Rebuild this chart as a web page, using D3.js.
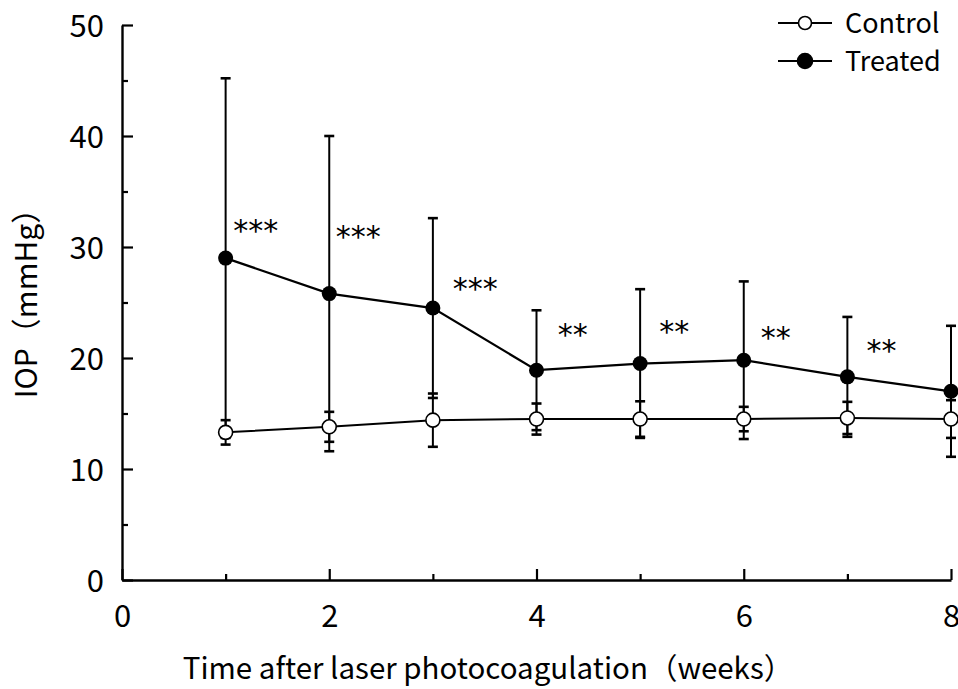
<!DOCTYPE html>
<html>
<head>
<meta charset="utf-8">
<script src="https://cdn.jsdelivr.net/npm/d3@7"></script>
<style>
  body { margin: 0; background: #fff; }
  svg text { font-family: "Noto Sans CJK JP", "Liberation Sans", sans-serif; fill: #000; }
</style>
</head>
<body>
<div id="chart"></div>
<script>
const W = 958, H = 689;
const margin = {top: 25, right: 7, bottom: 109, left: 122};
const width = W - margin.left - margin.right;
const height = H - margin.top - margin.bottom;

// data (weeks after laser photocoagulation)
const weeks = [1, 2, 3, 4, 5, 6, 7, 8];
const controlMean = [13.3, 13.8, 14.4, 14.5, 14.5, 14.5, 14.6, 14.5];
const controlSD   = [1.1, 1.35, 2.4, 1.4, 1.6, 1.1, 1.45, 1.7];
const treatedMean = [29.0, 25.8, 24.5, 18.9, 19.5, 19.8, 18.3, 17.0];
const treatedSD   = [16.2, 14.2, 8.1, 5.4, 6.7, 7.1, 5.4, 5.9];
// significance marks, placed in data units
const sigLabels = ["***", "***", "***", "**", "**", "**", "**"];
const sigX = [1.29, 2.28, 3.41, 4.35, 5.33, 6.31, 7.33];
const sigY = [32.0, 31.5, 26.8, 22.7, 22.9, 22.4, 21.2];

const xTicks = [0, 2, 4, 6, 8];
const yTicks = [0, 10, 20, 30, 40, 50];

const svg = d3.select("#chart").append("svg")
    .attr("width", W)
    .attr("height", H);

const g = svg.append("g")
    .attr("transform", `translate(${margin.left},${margin.top})`);

const x = d3.scaleLinear().domain([0, 8]).range([0, width]);
const y = d3.scaleLinear().domain([0, 50]).range([height, 0]);

// axes - ticks point inward
const yMinor = g.append("g")
    .call(d3.axisLeft(y).tickValues([5, 15, 25, 35, 45]).tickSize(-6).tickFormat(""));
const yAxis = g.append("g")
    .call(d3.axisLeft(y).tickValues(yTicks).tickSize(-11).tickPadding(18).tickSizeOuter(0));
const xMinor = g.append("g")
    .attr("transform", `translate(0,${height})`)
    .call(d3.axisBottom(x).tickValues([1, 3, 5, 7]).tickSize(-6).tickFormat(""));
const xAxis = g.append("g")
    .attr("transform", `translate(0,${height})`)
    .call(d3.axisBottom(x).tickValues(xTicks).tickSize(-11).tickPadding(25).tickSizeOuter(0));

[yMinor, yAxis, xMinor, xAxis].forEach(a => {
  a.selectAll("path, line").attr("stroke", "#000").attr("stroke-width", 2.2);
  a.select(".domain").attr("stroke-width", 2.4);
  a.selectAll("text").style("font-size", "31px").attr("fill", "#000");
});
xMinor.select(".domain").remove();
yMinor.select(".domain").remove();
yAxis.selectAll("text").attr("dy", "0.36em");
xAxis.selectAll("text").attr("dy", "0.72em");

// error bars
function errorBars(means, sds, cls) {
  const eg = g.append("g").attr("class", cls);
  const data = weeks.map((w, i) => ({w: w, lo: means[i] - sds[i], hi: means[i] + sds[i]}));
  eg.selectAll("line.v").data(data).enter().append("line")
    .attr("class", "v")
    .attr("x1", d => x(d.w)).attr("x2", d => x(d.w))
    .attr("y1", d => y(d.lo)).attr("y2", d => y(d.hi))
    .attr("stroke", "#000").attr("stroke-width", 2);
  eg.selectAll("line.cap").data(data.flatMap(d => [{w: d.w, v: d.lo}, {w: d.w, v: d.hi}])).enter().append("line")
    .attr("class", "cap")
    .attr("x1", d => x(d.w) - 5).attr("x2", d => x(d.w) + 5)
    .attr("y1", d => y(d.v)).attr("y2", d => y(d.v))
    .attr("stroke", "#000").attr("stroke-width", 2.6);
}
errorBars(treatedMean, treatedSD, "err-treated");
errorBars(controlMean, controlSD, "err-control");

const line = d3.line().x((d, i) => x(weeks[i])).y(d => y(d));

g.append("path").datum(controlMean)
    .attr("d", line).attr("fill", "none").attr("stroke", "#000").attr("stroke-width", 2);
g.append("path").datum(treatedMean)
    .attr("d", line).attr("fill", "none").attr("stroke", "#000").attr("stroke-width", 2.2);

g.selectAll("circle.control").data(controlMean).enter().append("circle")
    .attr("class", "control")
    .attr("cx", (d, i) => x(weeks[i])).attr("cy", d => y(d))
    .attr("r", 7).attr("fill", "#fff").attr("stroke", "#000").attr("stroke-width", 1.6);
g.selectAll("circle.treated").data(treatedMean).enter().append("circle")
    .attr("class", "treated")
    .attr("cx", (d, i) => x(weeks[i])).attr("cy", d => y(d))
    .attr("r", 7.5).attr("fill", "#000");

// significance marks
g.selectAll("text.sig").data(sigLabels).enter().append("text")
    .attr("class", "sig")
    .attr("x", (d, i) => x(sigX[i])).attr("y", (d, i) => y(sigY[i]))
    .attr("text-anchor", "middle")
    .attr("dy", "0.55em")
    .style("font-family", "'DejaVu Sans', sans-serif")
    .style("font-size", "30px")
    .text(d => d);

// axis titles
svg.append("text")
    .attr("x", 488).attr("y", 679)
    .attr("text-anchor", "middle")
    .style("font-size", "29.5px")
    .text("Time after laser photocoagulation（weeks）");
svg.append("text")
    .attr("transform", "translate(37,296) rotate(-90)")
    .attr("text-anchor", "middle")
    .style("font-size", "30px")
    .text("IOP（mmHg）");

// legend
const legend = svg.append("g");
const legendItems = [{name: "Control", fill: "#fff", r: 6.5}, {name: "Treated", fill: "#000", r: 7.5}];
const lg = legend.selectAll("g").data(legendItems).enter().append("g")
    .attr("transform", (d, i) => `translate(778,${23 + i * 38})`);
lg.append("line").attr("x1", 0).attr("x2", 54).attr("y1", 0).attr("y2", 0)
    .attr("stroke", "#000").attr("stroke-width", 2);
lg.append("circle").attr("cx", 27).attr("cy", 0).attr("r", d => d.r)
    .attr("fill", d => d.fill).attr("stroke", "#000").attr("stroke-width", 1.6);
lg.append("text").attr("x", 67).attr("y", 0).attr("dy", "0.36em")
    .style("font-size", "27px").text(d => d.name);
</script>
</body>
</html>
